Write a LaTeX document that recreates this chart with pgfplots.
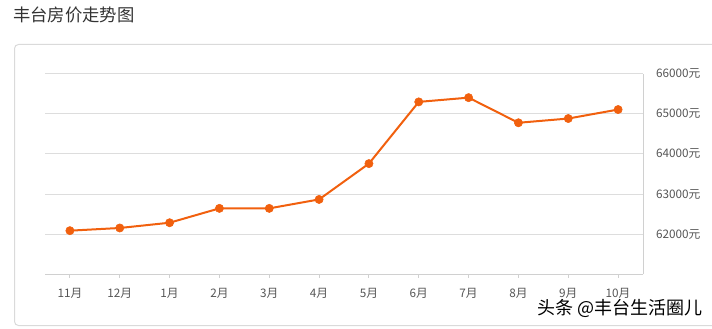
\documentclass[border=0pt]{standalone}
\usepackage{pgfplots}
\pgfplotsset{compat=1.18}
\usepackage{fontspec}
\setmainfont{Noto Sans CJK SC}
\definecolor{lineor}{RGB}{241,96,14}
\definecolor{gridc}{RGB}{221,221,221}
\definecolor{axisc}{RGB}{208,208,208}
\definecolor{framec}{RGB}{218,218,218}
\definecolor{labc}{RGB}{85,85,85}
\definecolor{titc}{RGB}{51,51,51}
\begin{document}
\begin{tikzpicture}[x=0.75pt,y=0.75pt]
\path[use as bounding box] (0,0) rectangle (712,328);
\draw[framec, line width=0.75pt, rounded corners=3pt] (14.5,2.5) rectangle (740,283.5);
\node[anchor=west, text=titc, font=\fontsize{13}{15}\selectfont, inner sep=0pt] at (13,313) {丰台房价走势图};
\begin{axis}[
  at={(33.75pt,40.3pt)}, anchor=south west,
  scale only axis, width=448.5pt, height=150.4pt,
  xmin=-0.5, xmax=11.5, ymin=61000, ymax=66000,
  axis x line*=bottom, axis y line*=right,
  axis line style={-, axisc, line width=0.75pt},
  scaled y ticks=false,
  ytick={62000,63000,64000,65000,66000},
  yticklabels={62000元,63000元,64000元,65000元,66000元},
  ymajorgrids, grid style={gridc, line width=0.75pt},
  xtick={0,...,11},
  xticklabels={11月,12月,1月,2月,3月,4月,5月,6月,7月,8月,9月,10月},
  tick label style={text=labc, font=\fontsize{8.8}{10}\selectfont},
  ytick style={draw=none},
  xtick style={axisc, line width=0.75pt},
  tick align=outside,
  xtick style={/pgfplots/major tick length=2.5pt},
  ytick style={/pgfplots/major tick length=0pt},
  yticklabel style={xshift=2pt},
  xticklabel style={yshift=-3pt},
  clip=false,
]
\addplot[lineor, line width=1.5pt, mark=*, mark size=3.1pt, mark options={solid, line width=0.4pt, fill=lineor, draw=lineor}] coordinates {
(0,62087) (1,62154) (2,62285) (3,62643) (4,62643) (5,62866)
(6,63759) (7,65298) (8,65404) (9,64777) (10,64883) (11,65107)
};
\end{axis}
\node[anchor=east, font=\fontsize{13.5}{15}\selectfont, text=black, inner sep=0pt] at (703,20) {头条 @丰台生活圈儿};
\end{tikzpicture}
\end{document}
